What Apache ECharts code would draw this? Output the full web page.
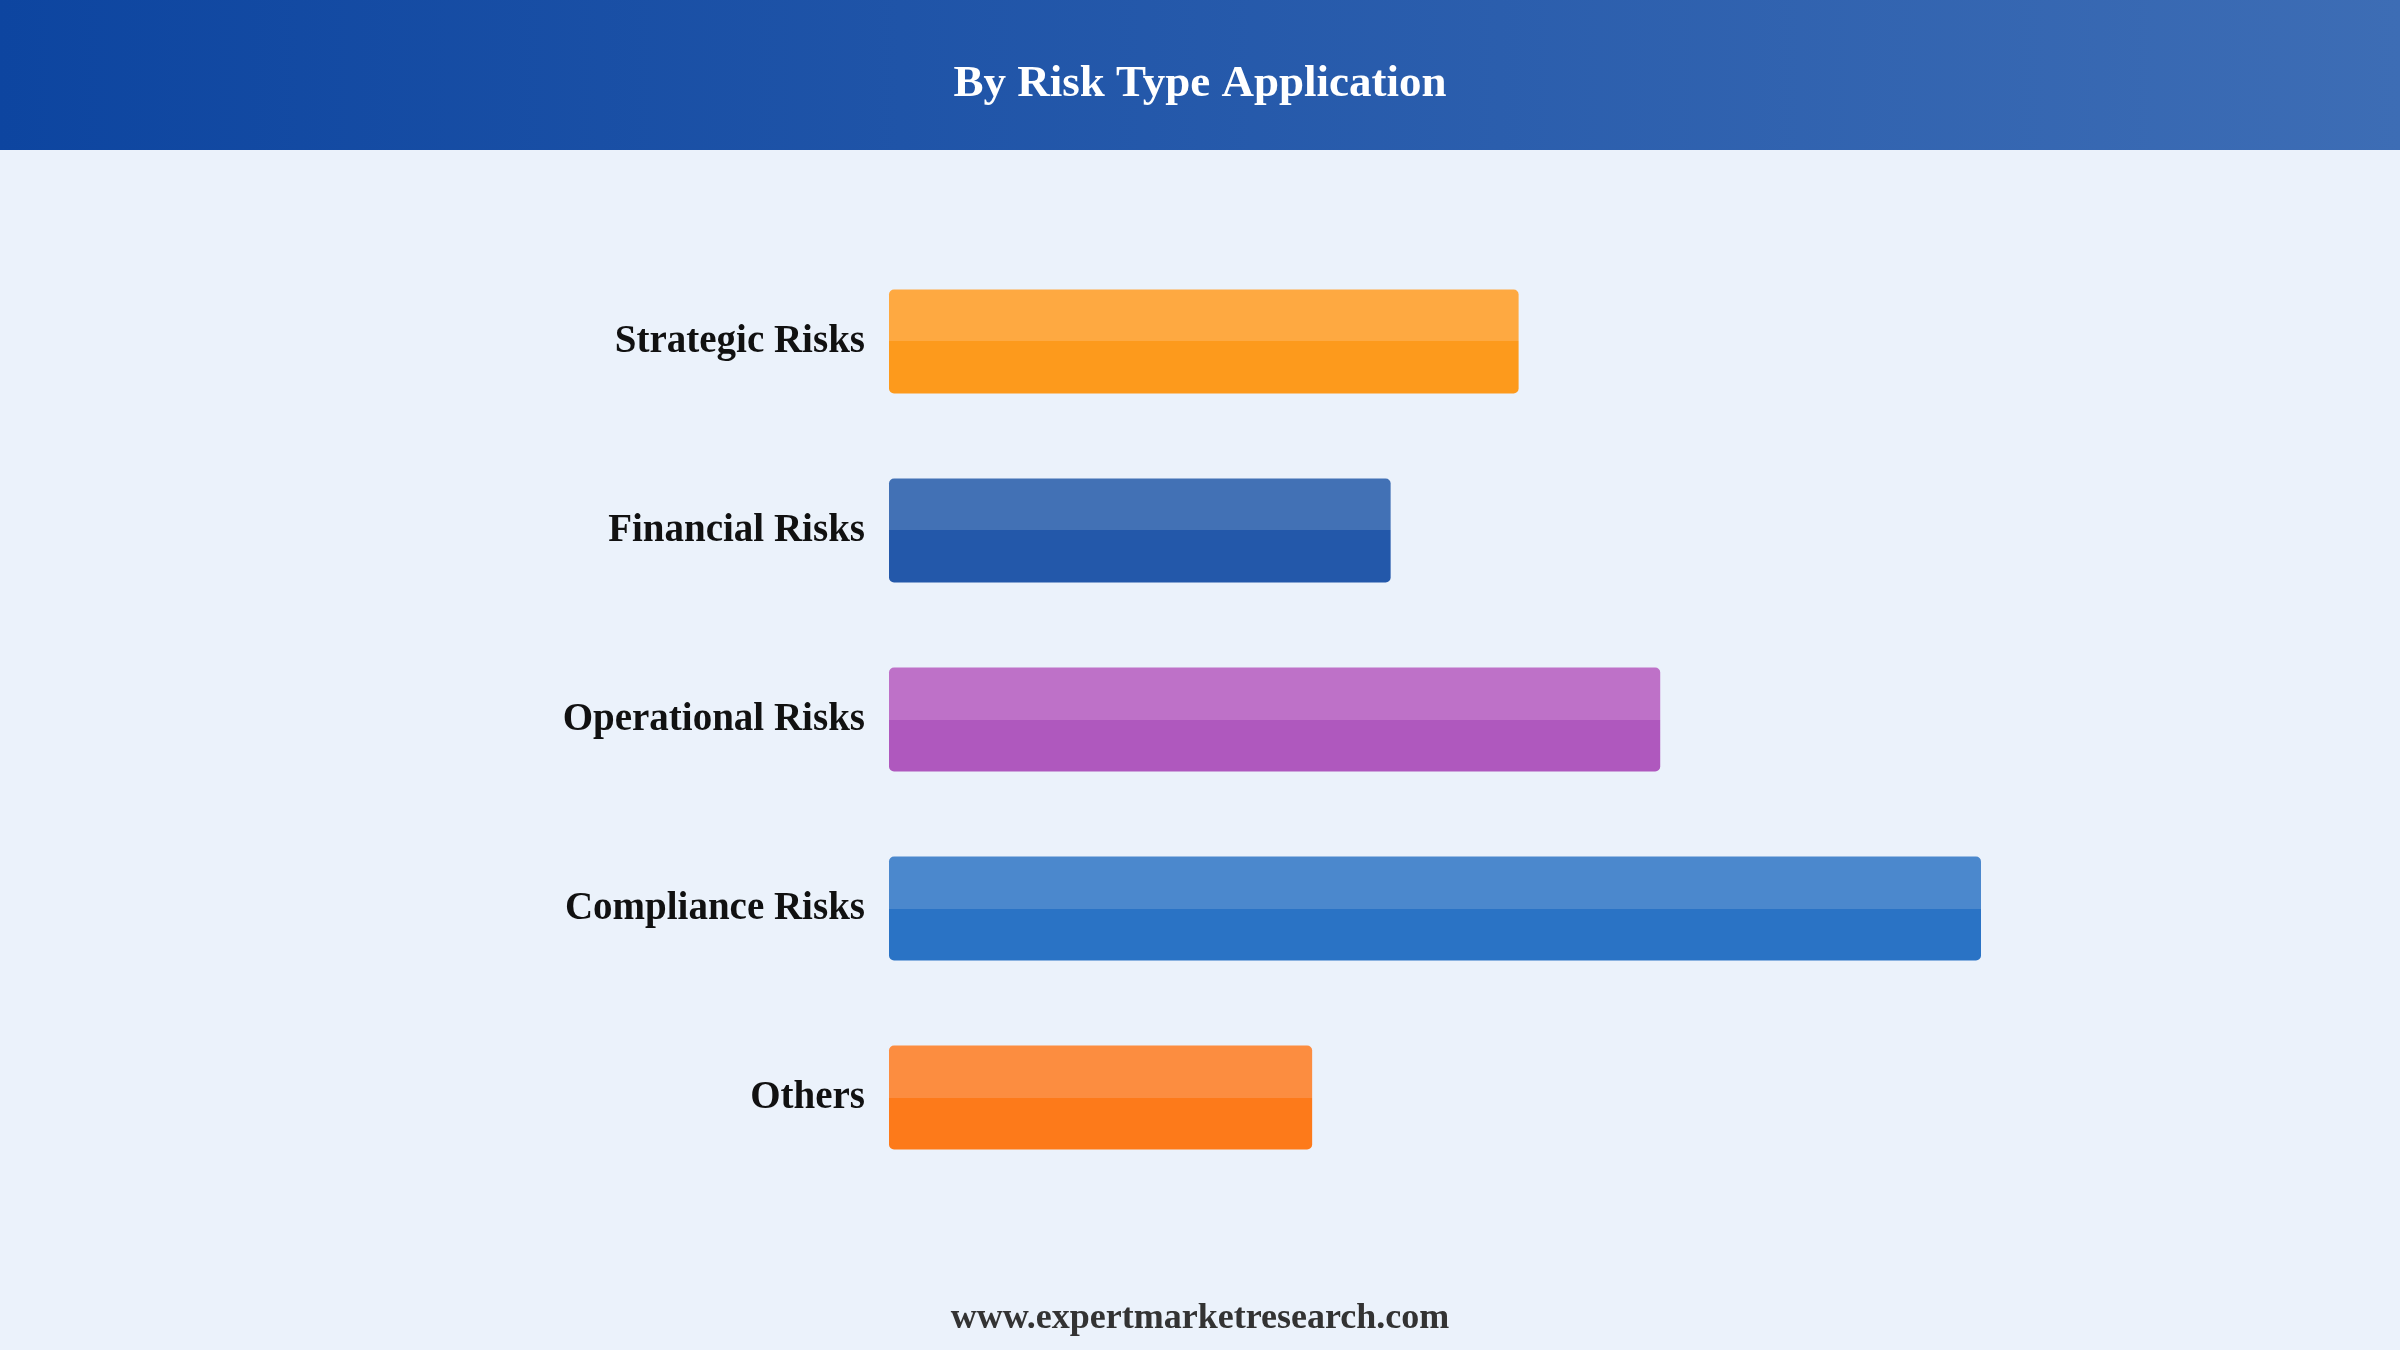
<!DOCTYPE html>
<html>
<head>
<meta charset="utf-8">
<script src="https://cdn.jsdelivr.net/npm/echarts@6/dist/echarts.min.js"></script>
<style>
html,body{margin:0;padding:0;background:#EBF2FB;}
#chart{width:2400px;height:1350px;}
</style>
</head>
<body>
<div id="chart"></div>
<script>
const titleText = 'By Risk Type Application';
const footerText = 'www.expertmarketresearch.com';
const categories = ['Strategic Risks', 'Financial Risks', 'Operational Risks', 'Compliance Risks', 'Others'];
const values = [18.45, 14.7, 22.6, 32.0, 12.4];
const lightColors = ['#FEA941', '#4271B5', '#BE71C8', '#4B88CD', '#FC8D40'];
const darkColors = ['#FD9A1C', '#2358AA', '#AF58BE', '#2A73C5', '#FD7A1A'];

const chart = echarts.init(document.getElementById('chart'));
const fontFamily = '"Liberation Serif", "Times New Roman", serif';

const barData = values.map((v, i) => ({
  value: v,
  itemStyle: {
    color: {
      type: 'linear', x: 0, y: 0, x2: 0, y2: 1,
      colorStops: [
        { offset: 0, color: lightColors[i] },
        { offset: 0.5, color: lightColors[i] },
        { offset: 0.5, color: darkColors[i] },
        { offset: 1, color: darkColors[i] }
      ]
    }
  }
}));

chart.setOption({
  backgroundColor: '#EBF2FB',
  animation: false,
  graphic: [
    {
      type: 'rect', left: 0, top: 0, z: -1,
      shape: { width: 2400, height: 150 },
      style: {
        fill: {
          type: 'linear', x: 0, y: 0, x2: 1, y2: 0,
          colorStops: [
            { offset: 0, color: '#0D45A0' },
            { offset: 1, color: '#3D6DB5' }
          ]
        }
      }
    }
  ],
  title: [
    {
      text: titleText,
      left: 'center',
      top: 57,
      textStyle: { color: '#FFFFFF', fontFamily: fontFamily, fontWeight: 'bold', fontSize: 45 }
    },
    {
      text: footerText,
      left: 'center',
      top: 1296,
      textStyle: { color: '#333333', fontFamily: fontFamily, fontWeight: 'bold', fontSize: 36 }
    }
  ],
  grid: { left: 889, right: 419, top: 247, height: 945, containLabel: false },
  xAxis: {
    type: 'value', min: 0, max: 32, show: false,
    splitLine: { show: false }
  },
  yAxis: {
    type: 'category',
    data: categories,
    inverse: true,
    axisLine: { show: false },
    axisTick: { show: false },
    axisLabel: {
      margin: 24,
      color: '#111111',
      fontFamily: fontFamily,
      fontWeight: 'bold',
      fontSize: 39,
      padding: [4, 0, 0, 0]
    }
  },
  series: [{
    type: 'bar',
    data: barData,
    barWidth: 104,
    itemStyle: { borderRadius: 5 }
  }]
});
</script>
</body>
</html>
